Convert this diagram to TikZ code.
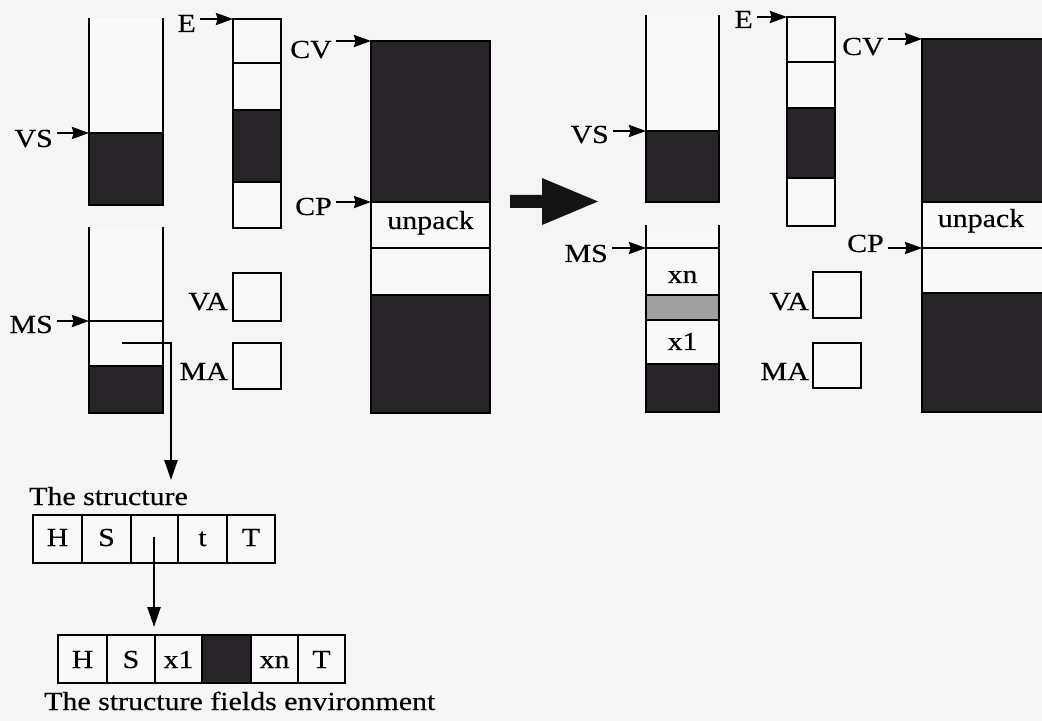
\documentclass[tikz,border=0pt]{standalone}
\usepackage{fontspec}
\setmainfont{Liberation Serif}[FakeStretch=1.15,FakeBold=0.35]
\usetikzlibrary{arrows.meta}
\definecolor{bg}{RGB}{245,245,246}
\definecolor{dk}{RGB}{40,36,42}
\definecolor{lt}{RGB}{160,160,163}
\definecolor{wh}{RGB}{249,249,249}
\begin{document}
\begin{tikzpicture}[x=0.5pt,y=-0.5pt,line width=1.25pt,
  lbl/.style={font=\fontsize{13}{15}\selectfont,inner sep=0pt},
  ptr/.style={-{Stealth[length=8.5pt,width=6pt,inset=0.8pt]},line width=1.25pt},
  bigptr/.style={-{Triangle[length=10pt,width=6.5pt]},line width=1.25pt},
  cellbox/.style={draw,fill=wh}]
\fill[bg] (0,0) rectangle (1042,721);
\useasboundingbox (0,0) rectangle (1042,721);

%================ LEFT PANEL ================
% VS stack
\fill[wh] (89,18) rectangle (163,133);
\fill[dk] (89,133) rectangle (163,205);
\draw (89,18) -- (89,205) -- (163,205) -- (163,18);
\draw (89,133) -- (163,133);
\coordinate (vsA) at (89,133);
\node[lbl,anchor=base east] (vsl) at (54,147) {VS};
\draw[ptr] ([xshift=1.5pt]vsl.east |- vsA) -- (vsA);

% MS stack
\fill[wh] (89,227) rectangle (163,366);
\fill[dk] (89,366) rectangle (163,413);
\draw (89,227) -- (89,413) -- (163,413) -- (163,227);
\draw (89,366) -- (163,366);
\draw (89,321) -- (163,321);
\coordinate (msA) at (89,321);
\node[lbl,anchor=base east] (msl) at (54,333) {MS};
\draw[ptr] ([xshift=1.5pt]msl.east |- msA) -- (msA);

% E column
\fill[wh] (233,19) rectangle (281,228);
\fill[dk] (233,110) rectangle (281,182);
\draw (233,19) rectangle (281,228);
\draw (233,63) -- (281,63);
\draw (233,110) -- (281,110);
\draw (233,182) -- (281,182);
\coordinate (eA) at (233,19);
\node[lbl,anchor=base east] (el) at (197,32) {E};
\draw[ptr] ([xshift=1.5pt]el.east |- eA) -- (eA);

% VA / MA
\draw[cellbox] (233,273) rectangle (281,321);
\node[lbl,anchor=base east] (val) at (229,310) {VA};
\draw[cellbox] (233,343) rectangle (281,389);
\node[lbl,anchor=base east] (mal) at (229,380) {MA};

% CV column
\fill[wh] (371,41) rectangle (490,413);
\fill[dk] (371,41) rectangle (490,202);
\fill[dk] (371,295) rectangle (490,413);
\draw (371,41) rectangle (490,413);
\draw (371,202) -- (490,202);
\draw (371,248) -- (490,248);
\draw (371,295) -- (490,295);
\node[lbl,anchor=base] (unp1) at (430.5,229) {unpack};
\coordinate (cvA) at (371,41);
\node[lbl,anchor=base east] (cvl) at (333,58) {CV};
\draw[ptr] ([xshift=1.5pt]cvl.east |- cvA) -- (cvA);
\coordinate (cpA) at (371,202);
\node[lbl,anchor=base east] (cpl) at (333,215) {CP};
\draw[ptr] ([xshift=1.5pt]cpl.east |- cpA) -- (cpA);

% pointer from MS stack to the structure
\coordinate (msP) at (122,343);
\coordinate (msT) at (171,480);
\draw[bigptr] (msP) -- (171,343) -- (msT);

%================ BIG ARROW ================
\fill[black!92] (510,195) -- (542,195) -- (542,178) -- (598,201.5) -- (542,225) -- (542,208) -- (510,208) -- cycle;

%================ RIGHT PANEL ================
% VS stack
\fill[wh] (646,15) rectangle (719,131);
\fill[dk] (646,131) rectangle (719,202);
\draw (646,15) -- (646,202) -- (719,202) -- (719,15);
\draw (646,131) -- (719,131);
\coordinate (vsB) at (646,131);
\node[lbl,anchor=base east] (vsr) at (610,143) {VS};
\draw[ptr] ([xshift=1.5pt]vsr.east |- vsB) -- (vsB);

% MS stack
\fill[wh] (646,225) rectangle (719,364);
\fill[lt] (646,295) rectangle (719,320);
\fill[dk] (646,364) rectangle (719,412);
\draw (646,225) -- (646,412) -- (719,412) -- (719,225);
\draw (646,248) -- (719,248);
\draw (646,295) -- (719,295);
\draw (646,320) -- (719,320);
\draw (646,364) -- (719,364);
\node[lbl,anchor=base] (xnr) at (682.5,283) {xn};
\node[lbl,anchor=base] (x1r) at (682.5,350) {x1};
\coordinate (msB) at (646,248);
\node[lbl,anchor=base east] (msr) at (609,262) {MS};
\draw[ptr] ([xshift=1.5pt]msr.east |- msB) -- (msB);

% E column
\fill[wh] (787,17) rectangle (835,226);
\fill[dk] (787,108) rectangle (835,178);
\draw (787,17) rectangle (835,226);
\draw (787,62) -- (835,62);
\draw (787,108) -- (835,108);
\draw (787,178) -- (835,178);
\coordinate (eB) at (787,17);
\node[lbl,anchor=base east] (er) at (754,28) {E};
\draw[ptr] ([xshift=1.5pt]er.east |- eB) -- (eB);

% VA / MA
\draw[cellbox] (813,272) rectangle (861,318);
\node[lbl,anchor=base east] (var) at (810,310) {VA};
\draw[cellbox] (813,343) rectangle (861,388);
\node[lbl,anchor=base east] (mar) at (810,380) {MA};

% CV column (cut by the right edge)
\fill[wh] (922,39) rectangle (1045,412);
\fill[dk] (922,39) rectangle (1045,202);
\fill[dk] (922,293) rectangle (1045,412);
\draw (922,39) rectangle (1045,412);
\draw (922,202) -- (1045,202);
\draw (922,248) -- (1045,248);
\draw (922,293) -- (1045,293);
\node[lbl,anchor=base] (unp2) at (981,227) {unpack};
\coordinate (cvB) at (922,39);
\node[lbl,anchor=base east] (cvr) at (885,55) {CV};
\draw[ptr] ([xshift=1.5pt]cvr.east |- cvB) -- (cvB);
\coordinate (cpB) at (922,248);
\node[lbl,anchor=base east] (cpr) at (885,252) {CP};
\draw[ptr] ([xshift=1.5pt]cpr.east |- cpB) -- (cpB);

%================ BOTTOM: STRUCTURES ================
\node[lbl,anchor=base west] (structlbl) at (28,505) {The structure};
\draw[cellbox] (33,515) rectangle (275,563);
\foreach \x in {82,131,178,227} \draw (\x,515) -- (\x,563);
\node[lbl,anchor=base] (s1h) at (57.5,546) {H};
\node[lbl,anchor=base] (s1s) at (106.5,546) {S};
\node[lbl,anchor=base] (s1t) at (202.5,546) {t};
\node[lbl,anchor=base] (s1T) at (251,546) {T};
\coordinate (p1) at (154,537);
\coordinate (p1e) at (154,627);
\draw[bigptr] (p1) -- (p1e);

\draw[cellbox] (58,635) rectangle (345,683);
\fill[dk] (202,635) rectangle (251,683);
\draw (58,635) rectangle (345,683);
\foreach \x in {107,155,202,251,298} \draw (\x,635) -- (\x,683);
\node[lbl,anchor=base] (s2h) at (82.5,668) {H};
\node[lbl,anchor=base] (s2s) at (131,668) {S};
\node[lbl,anchor=base] (s2x1) at (178.5,668) {x1};
\node[lbl,anchor=base] (s2xn) at (274.5,668) {xn};
\node[lbl,anchor=base] (s2T) at (321.5,668) {T};
\node[lbl,anchor=base west] (fieldslbl) at (43,710) {The structure fields environment};
\end{tikzpicture}
\end{document}
